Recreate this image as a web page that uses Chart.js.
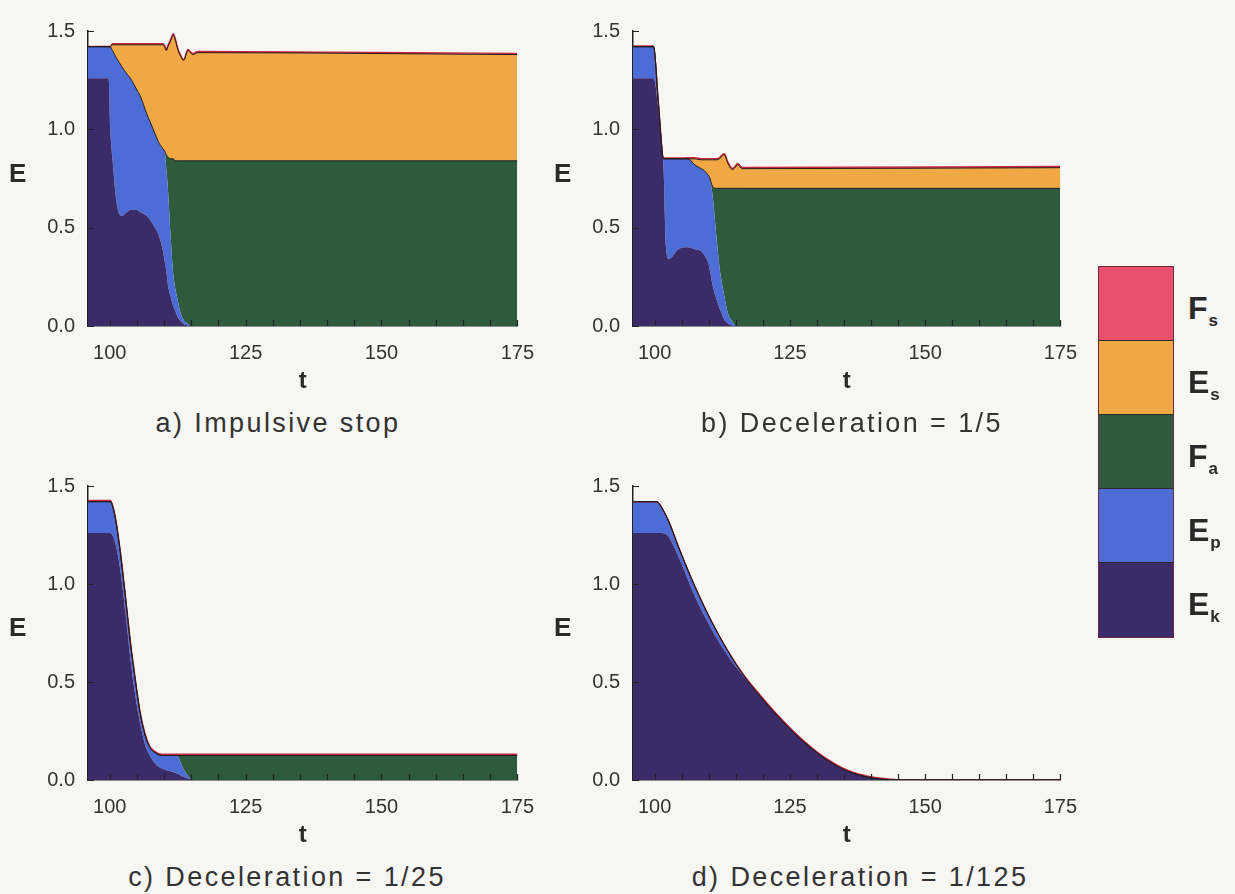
<!DOCTYPE html>
<html>
<head>
<meta charset="utf-8">
<script src="https://cdn.jsdelivr.net/npm/chart.js@4.4.1/dist/chart.umd.min.js"></script>
<style>
  body { margin: 0; background: #f6f6f3; font-family: "Liberation Sans", Arial, sans-serif; color: #333; }
  #page { position: relative; width: 1235px; height: 894px; overflow: hidden; }
  canvas { position: absolute; }
  .elab { position: absolute; font-weight: bold; font-size: 26px; line-height: 30px; color: #2a2a2a; }
  .cap { position: absolute; width: 500px; text-align: center; font-size: 27px; line-height: 32px; letter-spacing: 2.4px; color: #333; }
  #legend { position: absolute; left: 1098px; top: 266px; width: 74px; border: 1px solid #6a2a40; }
  #legend .sw { height: 73px; border-bottom: 1px solid #2a2a2a; }
  #legend .sw:last-child { border-bottom: none; height: 74px; }
  .lg { position: absolute; left: 1188px; font-weight: bold; font-size: 32px; line-height: 32px; color: #2a2a2a; }
  .lg sub { font-size: 17px; vertical-align: -7px; margin-left: 1px; }
</style>
</head>
<body>
<div id="page">
  <canvas id="chartA" width="549" height="394" style="left:0px;top:6px"></canvas>
  <canvas id="chartB" width="547" height="394" style="left:545px;top:6px"></canvas>
  <canvas id="chartC" width="549" height="393" style="left:0px;top:461px"></canvas>
  <canvas id="chartD" width="547" height="393" style="left:545px;top:461px"></canvas>

  <div class="elab" style="left:9px;top:158px">E</div>
  <div class="elab" style="left:554px;top:158px">E</div>
  <div class="elab" style="left:9px;top:612px">E</div>
  <div class="elab" style="left:554px;top:612px">E</div>

  <div class="cap" style="left:28px;top:407px">a) Impulsive stop</div>
  <div class="cap" style="left:602px;top:407px">b) Deceleration = 1/5</div>
  <div class="cap" style="left:37px;top:861px">c) Deceleration = 1/25</div>
  <div class="cap" style="left:610px;top:861px">d) Deceleration = 1/125</div>

  <div id="legend"></div>
  <div id="legendLabels"></div>
</div>

<script>
// layers, bottom to top
const layerNames = ["E_k", "E_p", "F_a", "E_s", "F_s"];
const layerColors = ["#3b2b69", "#4c6cd6", "#2e5b3b", "#f0a845", "#e8506e"];
const lineColors = [null, null, "#1e1e1e", "#2a1a1a", "#c8283f"];

// axes
const xMinor = [100, 105, 110, 115, 120, 125, 130, 135, 140, 145, 150, 155, 160, 165, 170, 175];
const xLabels = [100, 125, 150, 175];
const yTicks = [0, 0.5, 1.0, 1.5];

// a) impulsive stop
const tA  = [96, 99.8, 100.1, 100.5, 101.3, 102.2, 103.2, 103.8, 105.0, 105.6, 106.8, 107.4, 108.3, 108.9, 109.8, 110.1, 110.4, 110.7, 111.2, 111.7, 112.0, 112.6, 112.9, 113.6, 114.4, 114.8, 115.3, 116.2, 175];
const ekA = [1.26, 1.26, 1.00, 0.85, 0.62, 0.56, 0.58, 0.59, 0.59, 0.58, 0.56, 0.54, 0.50, 0.47, 0.38, 0.33, 0.28, 0.21, 0.15, 0.10, 0.08, 0.04, 0.03, 0.01, 0, 0, 0, 0, 0];
const epA = [0.16, 0.16, 0.42, 0.55, 0.74, 0.76, 0.70, 0.67, 0.61, 0.59, 0.52, 0.50, 0.48, 0.47, 0.52, 0.56, 0.52, 0.49, 0.31, 0.16, 0.12, 0.08, 0.05, 0.02, 0.01, 0, 0, 0, 0];
const faA = [0, 0, 0, 0, 0, 0, 0, 0, 0, 0, 0, 0, 0, 0, 0, 0, 0.07, 0.16, 0.39, 0.59, 0.64, 0.72, 0.76, 0.81, 0.83, 0.84, 0.84, 0.84, 0.84];
const esA = [0, 0, 0, 0.03, 0.07, 0.11, 0.15, 0.17, 0.23, 0.26, 0.35, 0.39, 0.45, 0.49, 0.53, 0.53, 0.53, 0.56, 0.60, 0.63, 0.62, 0.56, 0.54, 0.51, 0.56, 0.55, 0.54, 0.55, 0.54];
const fsA = [0.002, 0.002, 0.002, 0.006, 0.006, 0.006, 0.006, 0.006, 0.006, 0.006, 0.006, 0.006, 0.006, 0.006, 0.006, 0.006, 0.006, 0.006, 0.006, 0.006, 0.006, 0.006, 0.006, 0.006, 0.006, 0.006, 0.006, 0.006, 0.006];

// b) deceleration = 1/5
const tB  = [96, 99.8, 100.7, 101.65, 102.1, 102.6, 104.4, 106.2, 107.4, 108.6, 109.2, 109.8, 110.1, 110.7, 111.4, 112.0, 112.3, 112.9, 113.5, 114.4, 115.0, 115.3, 116.2, 175];
const ekB = [1.26, 1.26, 1.10, 0.80, 0.40, 0.34, 0.39, 0.40, 0.39, 0.38, 0.36, 0.33, 0.30, 0.21, 0.14, 0.09, 0.07, 0.03, 0.015, 0, 0, 0, 0, 0];
const epB = [0.16, 0.16, 0.03, 0.05, 0.45, 0.51, 0.46, 0.45, 0.43, 0.42, 0.43, 0.44, 0.46, 0.46, 0.32, 0.21, 0.17, 0.12, 0.055, 0.02, 0, 0, 0, 0];
const faB = [0, 0, 0, 0, 0, 0, 0, 0, 0, 0, 0, 0, 0, 0.04, 0.24, 0.40, 0.46, 0.55, 0.63, 0.68, 0.70, 0.70, 0.70, 0.70];
const esB = [0, 0, 0, 0, 0, 0, 0, 0, 0.03, 0.045, 0.055, 0.075, 0.085, 0.135, 0.145, 0.15, 0.16, 0.17, 0.13, 0.095, 0.11, 0.12, 0.10, 0.105];
const fsB = [0.004, 0.004, 0.004, 0.004, 0.004, 0.004, 0.004, 0.006, 0.006, 0.006, 0.006, 0.006, 0.006, 0.006, 0.006, 0.006, 0.006, 0.006, 0.006, 0.006, 0.006, 0.006, 0.006, 0.006];

// c) deceleration = 1/25
const tC  = [96, 100.1, 101.0, 101.95, 102.9, 103.8, 104.7, 105.6, 106.5, 107.4, 108.3, 109.5, 111.7, 112.3, 113.5, 114.7, 115.3, 175];
const ekC = [1.26, 1.26, 1.21, 1.07, 0.85, 0.62, 0.43, 0.29, 0.18, 0.125, 0.085, 0.06, 0.04, 0.035, 0.016, 0.005, 0, 0];
const epC = [0.16, 0.16, 0.13, 0.09, 0.08, 0.08, 0.08, 0.05, 0.05, 0.04, 0.055, 0.065, 0.085, 0.09, 0.044, 0.005, 0, 0];
const faC = [0, 0, 0, 0, 0, 0, 0, 0, 0, 0, 0, 0, 0, 0, 0.065, 0.115, 0.125, 0.125];
const esC = [0, 0, 0, 0, 0, 0, 0, 0, 0, 0, 0, 0, 0, 0, 0, 0, 0, 0];
const fsC = [0.006, 0.006, 0.006, 0.006, 0.006, 0.006, 0.006, 0.006, 0.006, 0.006, 0.006, 0.006, 0.006, 0.006, 0.006, 0.006, 0.006, 0.006];

// d) deceleration = 1/125
const tD  = [96, 100.4, 101.3, 102.6, 104.4, 107.4, 110.5, 113.5, 116.5, 119.6, 122.6, 125.6, 128.6, 131.7, 134.7, 137.8, 140.8, 143.8, 145.5, 175];
const ekD = [1.26, 1.26, 1.26, 1.24, 1.14, 0.94, 0.77, 0.635, 0.526, 0.425, 0.33, 0.245, 0.17, 0.105, 0.057, 0.025, 0.008, 0.001, 0, 0];
const epD = [0.16, 0.16, 0.13, 0.08, 0.05, 0.05, 0.04, 0.025, 0.005, 0, 0, 0, 0, 0, 0, 0, 0, 0, 0, 0];
const faD = [0, 0, 0, 0, 0, 0, 0, 0, 0, 0, 0, 0, 0, 0, 0, 0, 0, 0, 0, 0];
const esD = [0, 0, 0, 0, 0, 0, 0, 0, 0, 0, 0, 0, 0, 0, 0, 0, 0, 0, 0, 0];
const fsD = [0, 0, 0, 0, 0, 0, 0, 0, 0.004, 0.005, 0.005, 0.005, 0.005, 0.005, 0.005, 0.005, 0.005, 0.003, 0, 0];

const FONT = "'Liberation Sans', Arial, sans-serif";

// small ticks pointing into the plot
const inwardTicks = {
  id: "inwardTicks",
  afterDatasetsDraw(chart) {
    const { ctx, chartArea, scales: { x, y } } = chart;
    ctx.save();
    ctx.strokeStyle = "#222";
    ctx.lineWidth = 1.2;
    ctx.beginPath();
    xMinor.forEach((v) => {
      const px = Math.round(x.getPixelForValue(v)) + 0.5;
      ctx.moveTo(px, chartArea.bottom);
      ctx.lineTo(px, chartArea.bottom - 6);
    });
    yTicks.forEach((v) => {
      const py = Math.round(y.getPixelForValue(v)) + 0.5;
      ctx.moveTo(chartArea.left, py);
      ctx.lineTo(chartArea.left + 6, py);
    });
    ctx.stroke();
    ctx.restore();
  }
};

function layer(i, t, vals) {
  return {
    label: layerNames[i],
    data: t.map((tv, k) => ({ x: tv, y: vals[k] })),
    backgroundColor: layerColors[i],
    borderColor: lineColors[i] || layerColors[i],
    borderWidth: lineColors[i] ? (i === 4 ? 1.4 : 1) : 0,
    fill: i === 0 ? "origin" : "-1",
    pointRadius: 0,
    cubicInterpolationMode: "monotone"
  };
}

function makePanel(id, t, ek, ep, fa, es, fs) {
  return new Chart(document.getElementById(id), {
    type: "line",
    data: {
      datasets: [ek, ep, fa, es, fs].map((vals, i) => layer(i, t, vals))
    },
    options: {
      responsive: false,
      animation: false,
      devicePixelRatio: 1,
      layout: { padding: { top: 14, right: 24, left: 0, bottom: 0 } },
      plugins: {
        legend: { display: false },
        tooltip: { enabled: false },
        filler: { drawTime: "beforeDatasetsDraw" }
      },
      scales: {
        x: {
          type: "linear",
          min: 96,
          max: 175,
          z: 1,
          afterBuildTicks: (s) => { s.ticks = xMinor.map((v) => ({ value: v })); },
          afterFit: (s) => { s.height = 74; },
          grid: { display: false, drawTicks: false },
          border: { display: true, color: "#222", width: 1.5 },
          ticks: {
            autoSkip: false,
            maxRotation: 0,
            padding: 15,
            color: "#333",
            font: { family: FONT, size: 20 },
            callback: (v) => (xLabels.includes(v) ? String(v) : "")
          },
          title: {
            display: true,
            text: "t",
            color: "#2a2a2a",
            font: { family: FONT, size: 24, weight: "bold" },
            padding: { top: 0, bottom: 4 }
          }
        },
        y: {
          min: 0,
          max: 1.5,
          stacked: true,
          z: 1,
          afterBuildTicks: (s) => { s.ticks = yTicks.map((v) => ({ value: v })); },
          afterFit: (s) => { s.width = 88; },
          grid: { display: false, drawTicks: false },
          border: { display: true, color: "#222", width: 1.5 },
          ticks: {
            padding: 13,
            color: "#333",
            font: { family: FONT, size: 20 },
            callback: (v) => Number(v).toFixed(1)
          }
        }
      }
    },
    plugins: [inwardTicks]
  });
}

makePanel("chartA", tA, ekA, epA, faA, esA, fsA);
makePanel("chartB", tB, ekB, epB, faB, esB, fsB);
makePanel("chartC", tC, ekC, epC, faC, esC, fsC);
makePanel("chartD", tD, ekD, epD, faD, esD, fsD);

// legend: swatches top (F_s) to bottom (E_k)
const legendEl = document.getElementById("legend");
const labelsEl = document.getElementById("legendLabels");
for (let i = layerNames.length - 1; i >= 0; i--) {
  const row = layerNames.length - 1 - i;
  const sw = document.createElement("div");
  sw.className = "sw";
  sw.style.background = layerColors[i];
  legendEl.appendChild(sw);

  const [main, sub] = layerNames[i].split("_");
  const lab = document.createElement("div");
  lab.className = "lg";
  lab.style.top = (292 + row * 74) + "px";
  lab.innerHTML = main + "<sub>" + sub + "</sub>";
  labelsEl.appendChild(lab);
}
</script>
</body>
</html>
